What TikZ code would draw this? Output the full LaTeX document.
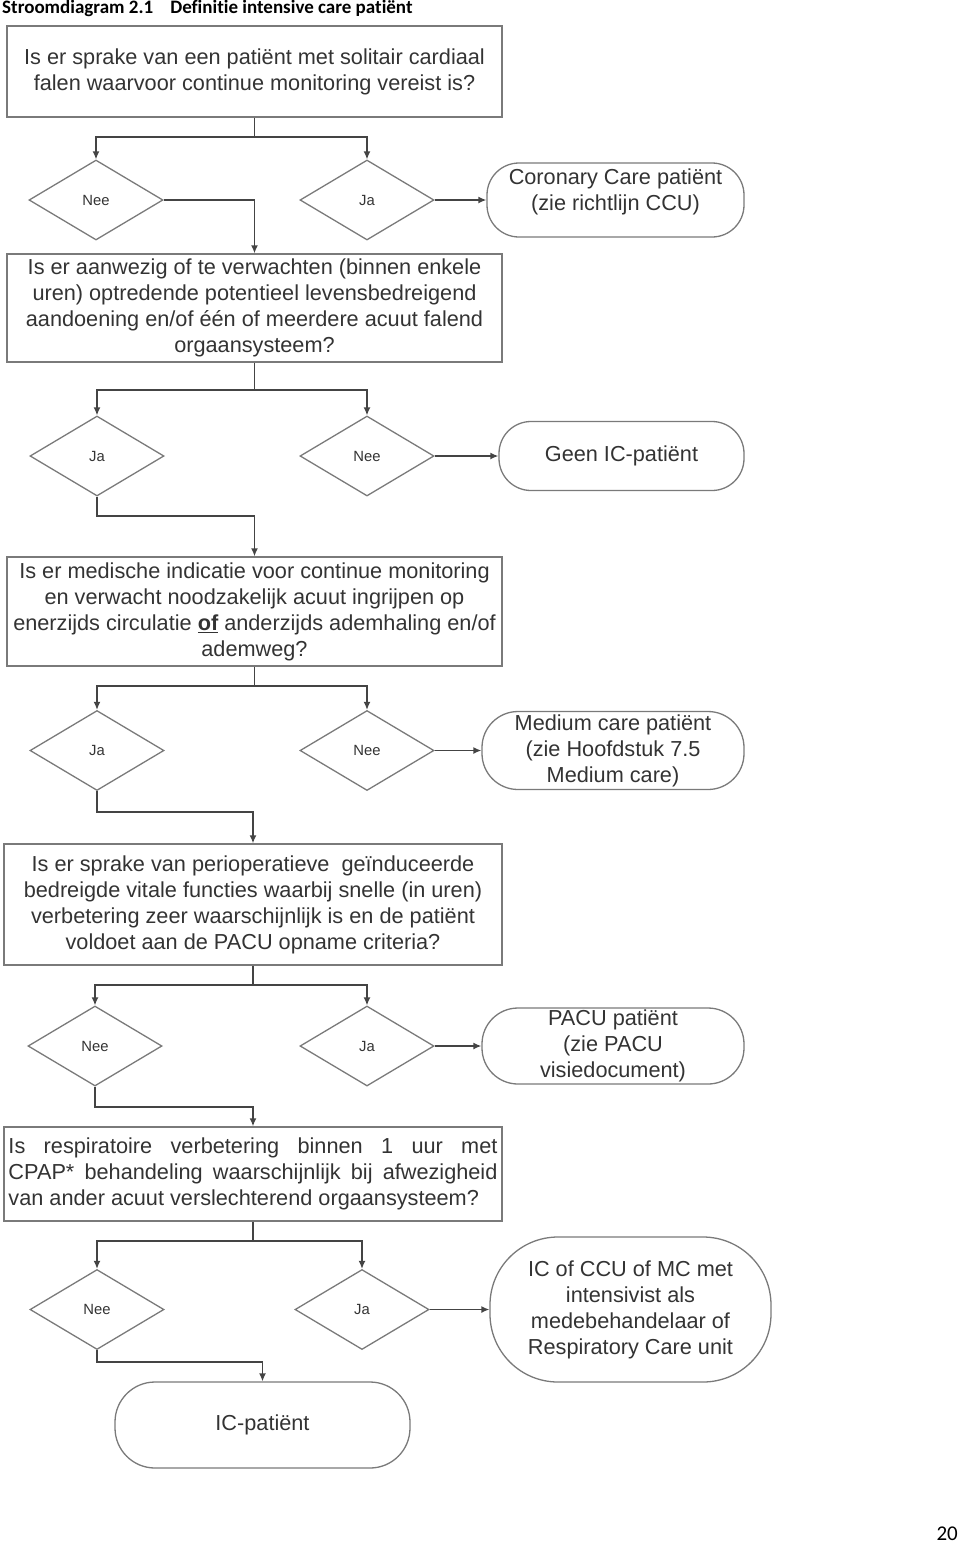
\documentclass[tikz,border=0pt]{standalone}
\usepackage{fontspec}
\setmainfont{Liberation Sans}
\newfontfamily\titlefont[Ligatures=NoCommon]{Carlito}
\usetikzlibrary{shapes.geometric,arrows.meta}
\definecolor{txt}{HTML}{333333}
\definecolor{edge}{HTML}{7A7A7A}
\definecolor{conn}{HTML}{444444}
\tikzset{
  qbox/.style={draw=edge,line width=1.4pt,rectangle,inner sep=0pt,align=center,text=txt,
    font=\fontsize{21.7}{26}\selectfont},
  dia/.style={draw=edge,line width=1.3pt,diamond,inner sep=0pt,minimum width=134pt,minimum height=80pt,
    text=txt,font=\fontsize{14.8}{17}\selectfont},
  term/.style={draw=edge,line width=1.3pt,rectangle,rounded corners=32pt,inner sep=0pt,align=center,text=txt,
    font=\fontsize{21.7}{26}\selectfont},
  wire/.style={draw=conn,line width=1.4pt},
  arr/.style={wire,-{Latex[length=8pt,width=7pt]}},
}
\begin{document}
\begin{tikzpicture}[x=1pt,y=-1pt]
\useasboundingbox (0,0) rectangle (960,1543);
% title and page number
\node[anchor=base west,inner sep=0pt,font=\titlefont\bfseries\fontsize{19}{21}\selectfont] (title) at (2,13)
  {Stroomdiagram 2.1\hspace{0.9em}Definitie intensive care patiënt};
\node[anchor=base east,inner sep=0pt,font=\titlefont\fontsize{21}{24}\selectfont] (page) at (958,1540) {20};

% question boxes
\node[qbox,minimum width=495pt,minimum height=91pt] (b1) at (254.5,71.5)
  {Is er sprake van een patiënt met solitair cardiaal\\falen waarvoor continue monitoring vereist is?};
\node[qbox,minimum width=495pt,minimum height=108pt] (b2) at (254.5,308)
  {Is er aanwezig of te verwachten (binnen enkele\\uren) optredende potentieel levensbedreigend\\aandoening en/of één of meerdere acuut falend\\orgaansysteem?};
\node[qbox,minimum width=495pt,minimum height=109pt] (b3) at (254.5,611.5)
  {Is er medische indicatie voor continue monitoring\\en verwacht noodzakelijk acuut ingrijpen op\\enerzijds circulatie \textbf{\underline{of}} anderzijds ademhaling en/of\\ademweg?};
\node[qbox,minimum width=498pt,minimum height=121pt] (b4) at (253,904.5)
  {Is er sprake van perioperatieve\ \ geïnduceerde\\bedreigde vitale functies waarbij snelle (in uren)\\verbetering zeer waarschijnlijk is en de patiënt\\voldoet aan de PACU opname criteria?};
\node[qbox,minimum width=498pt,minimum height=94pt,align=left] (b5) at (253,1174)
  {\makebox[489pt][s]{Is respiratoire verbetering binnen 1 uur met}\\
   \makebox[489pt][s]{CPAP* behandeling waarschijnlijk bij afwezigheid}\\
   van ander acuut verslechterend orgaansysteem?};

% diamonds
\node[dia] (d1n) at (96,200) {Nee};
\node[dia] (d1j) at (367,200) {Ja};
\node[dia] (d2j) at (97,456) {Ja};
\node[dia] (d2n) at (367,456) {Nee};
\node[dia] (d3j) at (97,750.5) {Ja};
\node[dia] (d3n) at (367,750.5) {Nee};
\node[dia] (d4n) at (95,1046) {Nee};
\node[dia] (d4j) at (367,1046) {Ja};
\node[dia] (d5n) at (97,1309.5) {Nee};
\node[dia] (d5j) at (362,1309.5) {Ja};

% terminals
\node[term,minimum width=257pt,minimum height=74pt,text depth=21pt] (t1) at (615.5,200)
  {Coronary Care patiënt\\(zie richtlijn CCU)};
\node[term,minimum width=245pt,minimum height=69pt] (t2) at (621.5,456) {Geen IC-patiënt};
\node[term,minimum width=262pt,minimum height=78pt,rounded corners=36pt] (t3) at (613,750.5)
  {Medium care patiënt\\(zie Hoofdstuk 7.5\\Medium care)};
\node[term,minimum width=262pt,minimum height=76pt,rounded corners=36pt] (t4) at (613,1046)
  {PACU patiënt\\(zie PACU\\visiedocument)};
\node[term,minimum width=281pt,minimum height=145pt,rounded corners=68pt] (t5) at (630.5,1309.5)
  {IC of CCU of MC met\\intensivist als\\medebehandelaar of\\Respiratory Care unit};
\node[term,minimum width=295pt,minimum height=86pt,rounded corners=40pt] (t6) at (262.5,1425) {IC-patiënt};

% junction coordinates
\coordinate (j1) at (254.5,137);
\coordinate (j2) at (254.5,390);
\coordinate (k2) at (254.5,516);
\coordinate (j3) at (254.5,686);
\coordinate (k3) at (253,812);
\coordinate (j4) at (253,985);
\coordinate (k4) at (253,1107);
\coordinate (j5) at (253,1241);
\coordinate (k5) at (262.5,1362);

% connectors
\draw[wire] (b1.south) -- (j1);
\draw[arr] (j1) -| (d1n.north);
\draw[arr] (j1) -| (d1j.north);
\draw[arr] (d1n.east) -| (b2.north);
\draw[arr] (d1j.east) -- (d1j.east -| t1.west);

\draw[wire] (b2.south) -- (j2);
\draw[arr] (j2) -| (d2j.north);
\draw[arr] (j2) -| (d2n.north);
\draw[arr] (d2n.east) -- (d2n.east -| t2.west);
\draw[arr] (d2j.south) |- (k2) -- (b3.north);

\draw[wire] (b3.south) -- (j3);
\draw[arr] (j3) -| (d3j.north);
\draw[arr] (j3) -| (d3n.north);
\draw[arr] (d3n.east) -- (d3n.east -| t3.west);
\draw[arr] (d3j.south) |- (k3) -- (b4.north);

\draw[wire] (b4.south) -- (j4);
\draw[arr] (j4) -| (d4n.north);
\draw[arr] (j4) -| (d4j.north);
\draw[arr] (d4j.east) -- (d4j.east -| t4.west);
\draw[arr] (d4n.south) |- (k4) -- (b5.north);

\draw[wire] (b5.south) -- (j5);
\draw[arr] (j5) -| (d5n.north);
\draw[arr] (j5) -| (d5j.north);
\draw[arr] (d5j.east) -- (d5j.east -| t5.west);
\draw[arr] (d5n.south) |- (k5) -- (t6.north);
\end{tikzpicture}
\end{document}
